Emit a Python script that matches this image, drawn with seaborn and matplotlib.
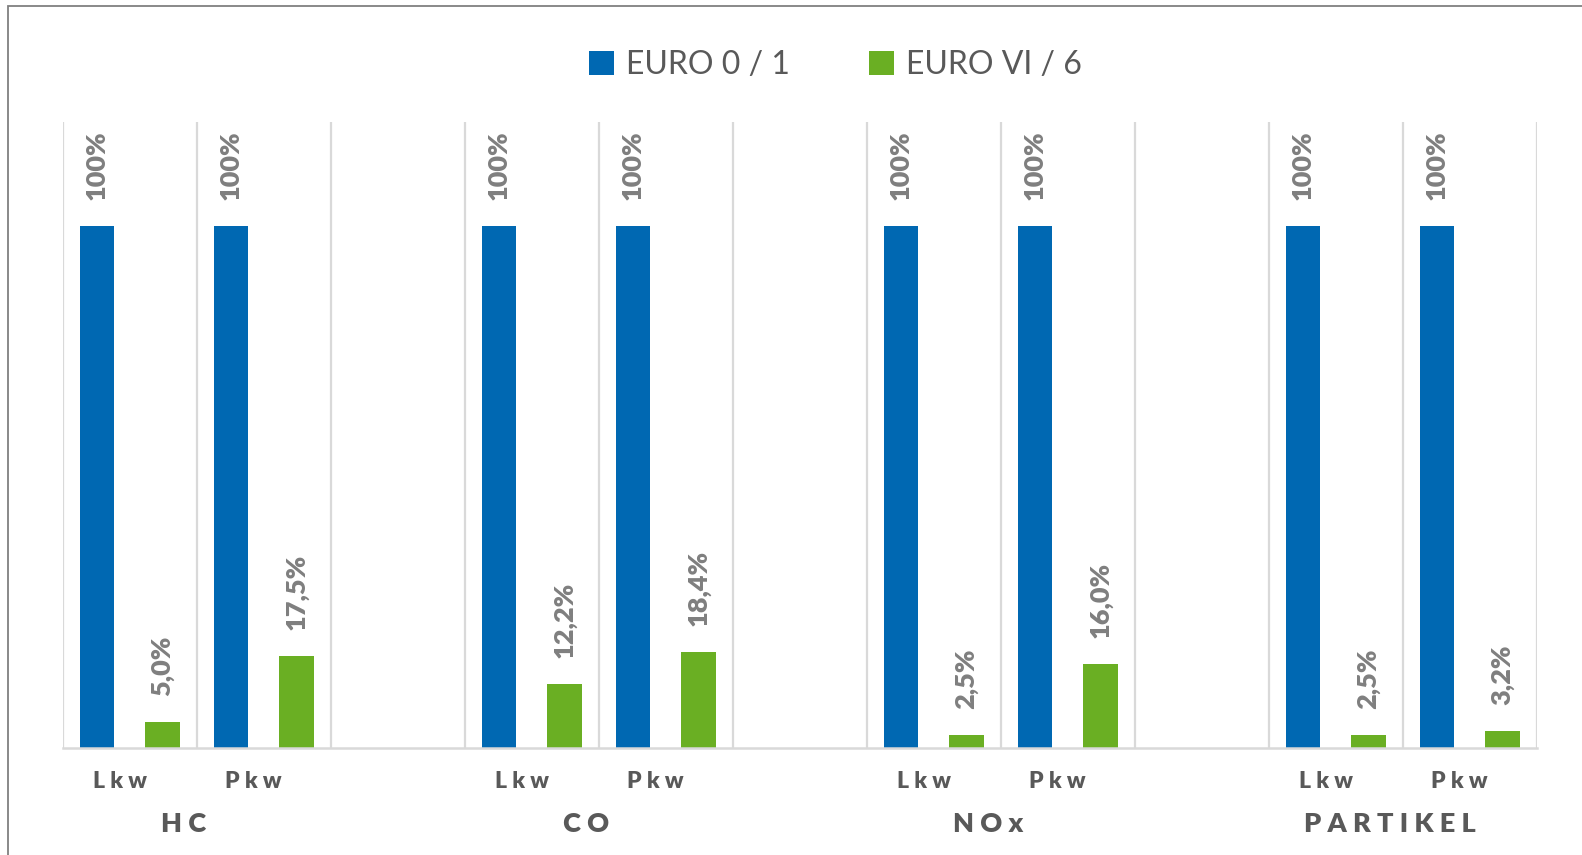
import matplotlib
matplotlib.use("Agg")
import matplotlib.pyplot as plt
import matplotlib.transforms as mtransforms
from matplotlib.patches import Rectangle
import seaborn as sns
import pandas as pd
import numpy as np

# ---- data ----
groups = ["HC", "CO", "NOx", "PARTIKEL"]
group_labels = ["H C", "C O", "N O x", "P A R T I K E L"]
vehicles = ["Lkw", "Pkw"]
vehicle_labels = ["L k w", "P k w"]
series = ["EURO 0 / 1", "EURO VI / 6"]
euro_0_1 = [100, 100, 100, 100, 100, 100, 100, 100]
euro_vi_6 = [5.0, 17.5, 12.2, 18.4, 2.5, 16.0, 2.5, 3.2]
colors = ["#0068B2", "#6AAF23"]

cats = [f"{g} {v}" for g in groups for v in vehicles]
order = []
for i, g in enumerate(groups):
    order += [f"{g} {v}" for v in vehicles]
    if i < len(groups) - 1:
        order.append(f"gap{i}")

df = pd.DataFrame({
    "cat": cats * 2,
    "series": [series[0]] * len(cats) + [series[1]] * len(cats),
    "value": euro_0_1 + euro_vi_6,
})

sns.set_theme(style="white")
plt.rcParams["font.family"] = ["Lato", "DejaVu Sans"]

W, H = 1582, 855
fig = plt.figure(figsize=(W / 100, H / 100), dpi=100)
ax_l, ax_r, ax_t, ax_b = 62.7, 1536.7, 121.7, 747.7
ax = fig.add_axes([ax_l / W, 1 - ax_b / H, (ax_r - ax_l) / W, (ax_b - ax_t) / H])

sns.barplot(data=df, x="cat", y="value", hue="series", order=order,
            hue_order=series, palette=colors, width=0.98, gap=0.48,
            saturation=1, linewidth=0, ax=ax)


def fmt(v):
    if abs(v - round(v)) < 1e-9 and v >= 100:
        return f"{int(round(v))}%"
    return f"{v:.1f}".replace(".", ",") + "%"


for cont in ax.containers:
    ax.bar_label(cont, labels=[fmt(v) for v in cont.datavalues], rotation=90,
                 padding=18.7, color="#7F7F7F", fontsize=19.5, fontweight="heavy")

ax.set_ylim(0, 120)
ax.set_xlim(-0.5, len(order) - 0.5)
ax.set_yticks([])
ax.set_xlabel("")
ax.set_ylabel("")
ax.set_xticks([])
ax.set_xticks(np.arange(-0.5, len(order), 1), minor=True)
ax.grid(which="minor", axis="x", color="#D9D9D9", linewidth=1.6)
ax.tick_params(which="both", length=0, labelbottom=False)
ax.set_axisbelow(True)
for s in ["left", "top", "right"]:
    ax.spines[s].set_visible(False)
ax.spines["bottom"].set_color("#D9D9D9")
ax.spines["bottom"].set_linewidth(1.8)

# legend
handles, labels = ax.get_legend_handles_labels()
ax.legend(handles, labels, loc="center", bbox_to_anchor=(835.5 / W, 1 - 65 / H),
          bbox_transform=fig.transFigure, ncol=2, frameon=False, fontsize=23,
          handlelength=0.78, handleheight=0.78, handletextpad=0.4,
          columnspacing=2.45, labelcolor="#595959", borderpad=0)

# multi-level category labels
trans = mtransforms.blended_transform_factory(ax.transData, ax.transAxes)


def off(dx, dy):
    return mtransforms.ScaledTranslation(dx / 100, dy / 100, fig.dpi_scale_trans)


for gi, g in enumerate(groups):
    xs = []
    for vi, v in enumerate(vehicles):
        x = order.index(f"{g} {v}")
        xs.append(x)
        ax.text(x, 0, vehicle_labels[vi], transform=trans + off(-10, -40.6),
                ha="center", va="baseline", fontsize=16.5, fontweight="heavy",
                color="#595959")
    ax.text(np.mean(xs), 0, group_labels[gi], transform=trans + off(-13, -84.6),
            ha="center", va="baseline", fontsize=19.5, fontweight="heavy",
            color="#595959")

# outer frame (cut off at right and bottom)
fig.add_artist(Rectangle((8.3 / W, -0.5), 2, 0.5 + 1 - 6 / H,
                         transform=fig.transFigure, fill=False,
                         edgecolor="#808080", linewidth=1.3))

fig.savefig("out.png", dpi=100)
